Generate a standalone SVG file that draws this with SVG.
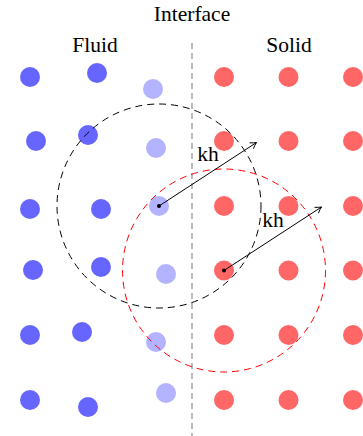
<svg xmlns="http://www.w3.org/2000/svg" width="363" height="436" viewBox="0 0 363 436">
<style>
text{font-family:'Liberation Serif','Times New Roman','DejaVu Serif',serif;font-size:21.5px;fill:#000;text-anchor:middle}
.b{fill:#6666ff}
.l{fill:#b3b3ff}
.r{fill:#ff6666}
.c{fill:none;stroke-width:1;stroke-dasharray:7,5}
</style>
<defs>
<marker id="ah" markerUnits="userSpaceOnUse" markerWidth="12" markerHeight="12" viewBox="-8 -6 10 12" refX="0" refY="0" orient="auto">
<path d="M-6,-3.5 Q-2.5,-1 0,0 Q-2.5,1 -6,3.5" fill="none" stroke="#000" stroke-width="0.9"/>
</marker>
</defs>
<rect width="363" height="436" fill="#fff"/>
<g id="interface">
<line x1="192" y1="43" x2="192" y2="436" stroke="#aaa" stroke-width="1.6" stroke-dasharray="6,4"/>
<text x="192" y="21" font-family="Liberation Serif, serif">Interface</text>
</g>
<g id="labels">
<text x="95" y="52" font-family="Liberation Serif, serif">Fluid</text>
<text x="289" y="52" font-family="Liberation Serif, serif">Solid</text>
</g>
<g id="fluid">
<circle class="b" cx="30" cy="77" r="10"/>
<circle class="b" cx="97" cy="73" r="10"/>
<circle class="b" cx="36" cy="141" r="10"/>
<circle class="b" cx="88" cy="135" r="10"/>
<circle class="b" cx="30" cy="209" r="10"/>
<circle class="b" cx="101" cy="209" r="10"/>
<circle class="b" cx="33" cy="270" r="10"/>
<circle class="b" cx="101" cy="267" r="10"/>
<circle class="b" cx="30" cy="335" r="10"/>
<circle class="b" cx="82" cy="332" r="10"/>
<circle class="b" cx="30" cy="400" r="10"/>
<circle class="b" cx="88" cy="407" r="10"/>
</g>
<g id="ghost">
<circle class="l" cx="153" cy="89" r="10"/>
<circle class="l" cx="156" cy="148" r="10"/>
<circle class="l" cx="159" cy="206" r="10"/>
<circle class="l" cx="166" cy="274" r="10"/>
<circle class="l" cx="156" cy="342" r="10"/>
<circle class="l" cx="166" cy="393" r="10"/>
</g>
<g id="solid">
<circle class="r" cx="224" cy="77" r="10"/>
<circle class="r" cx="288.5" cy="77" r="10"/>
<circle class="r" cx="353" cy="77" r="10"/>
<circle class="r" cx="224" cy="141" r="10"/>
<circle class="r" cx="288.5" cy="141" r="10"/>
<circle class="r" cx="353" cy="141" r="10"/>
<circle class="r" cx="224" cy="206" r="10"/>
<circle class="r" cx="288.5" cy="206" r="10"/>
<circle class="r" cx="353" cy="206" r="10"/>
<circle class="r" cx="224" cy="270.5" r="10"/>
<circle class="r" cx="288.5" cy="270.5" r="10"/>
<circle class="r" cx="353" cy="270.5" r="10"/>
<circle class="r" cx="224" cy="335" r="10"/>
<circle class="r" cx="288.5" cy="335" r="10"/>
<circle class="r" cx="353" cy="335" r="10"/>
<circle class="r" cx="224" cy="400" r="10"/>
<circle class="r" cx="288.5" cy="400" r="10"/>
<circle class="r" cx="353" cy="400" r="10"/>
</g>
<g id="connectors">
<circle class="c" cx="159" cy="206" r="102" stroke="#000"/>
<circle class="c" cx="224" cy="270.5" r="101.5" stroke="#ff0000"/>
<line x1="159" y1="206" x2="256.5" y2="142.5" stroke="#000" stroke-width="1" marker-end="url(#ah)"/>
<line x1="224" y1="270.5" x2="321.5" y2="207" stroke="#000" stroke-width="1" marker-end="url(#ah)"/>
<circle cx="159" cy="206" r="2" fill="#000"/>
<circle cx="224" cy="270.5" r="2" fill="#000"/>
<text x="208" y="161" font-family="Liberation Serif, serif">kh</text>
<text x="273" y="226.5" font-family="Liberation Serif, serif">kh</text>
</g>
</svg>
